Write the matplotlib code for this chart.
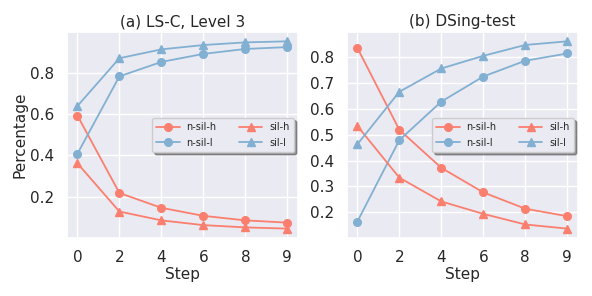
import matplotlib
matplotlib.use("Agg")
import matplotlib.pyplot as plt
import seaborn as sns

sns.set_theme(style="darkgrid")
plt.rcParams['font.family'] = ['DejaVu Sans']

steps = ["0", "2", "4", "6", "8", "9"]

a_nsil_h = [0.594, 0.218, 0.146, 0.107, 0.085, 0.074]
a_sil_h = [0.362, 0.128, 0.085, 0.062, 0.051, 0.045]
a_nsil_l = [0.408, 0.784, 0.854, 0.893, 0.917, 0.926]
a_sil_l = [0.640, 0.872, 0.915, 0.936, 0.949, 0.954]

b_nsil_h = [0.836, 0.519, 0.372, 0.277, 0.214, 0.185]
b_sil_h = [0.534, 0.334, 0.242, 0.194, 0.153, 0.137]
b_nsil_l = [0.164, 0.479, 0.628, 0.725, 0.786, 0.814]
b_sil_l = [0.463, 0.666, 0.756, 0.805, 0.847, 0.861]

titles = ["(a) LS-C, Level 3", "(b) DSing-test"]

red = "#FA7F6F"
blue = "#82B0D2"

fig, axes = plt.subplots(1, 2, figsize=(5.92, 2.96), dpi=100)
data = [(a_nsil_h, a_nsil_l, a_sil_h, a_sil_l), (b_nsil_h, b_nsil_l, b_sil_h, b_sil_l)]
x = list(range(len(steps)))
for ax, (nh, nl, sh, sl), t in zip(axes, data, titles):
    ax.plot(x, nh, color=red, marker='o', lw=1.3, ms=5.5, label='n-sil-h')
    ax.plot(x, nl, color=blue, marker='o', lw=1.3, ms=5.5, label='n-sil-l')
    ax.plot(x, sh, color=red, marker='^', lw=1.3, ms=5.5, label='sil-h')
    ax.plot(x, sl, color=blue, marker='^', lw=1.3, ms=5.5, label='sil-l')
    ax.set_xticks(x)
    ax.set_xticklabels(steps)
    ax.tick_params(labelsize=11, pad=3)
    ax.set_xlabel("Step", fontsize=11, labelpad=1)
    ax.set_title(t, fontsize=11, pad=4)
    ax.legend(loc='center right', ncol=2, fontsize=7, shadow=True, frameon=True,
              handlelength=2.4, handletextpad=0.7, columnspacing=2.3,
              borderpad=0.45, labelspacing=0.55, borderaxespad=0.4)
axes[0].set_ylabel("Percentage", fontsize=11, labelpad=2)
axes[0].set_yticks([0.2, 0.4, 0.6, 0.8])
axes[1].set_yticks([0.2, 0.3, 0.4, 0.5, 0.6, 0.7, 0.8])

fig.subplots_adjust(left=0.113, right=0.976, top=0.892, bottom=0.196, wspace=0.212)
fig.savefig("out.png", dpi=100)
